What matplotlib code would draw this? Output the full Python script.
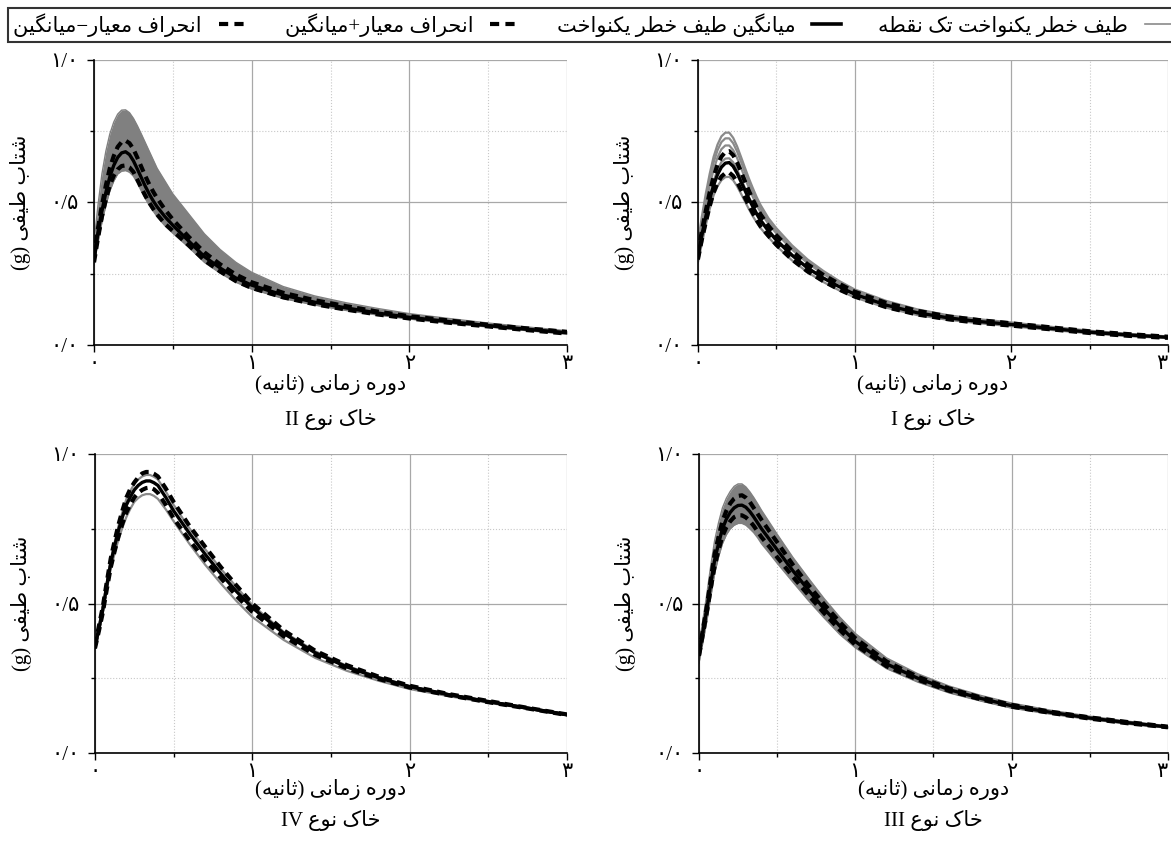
import re
import matplotlib
matplotlib.use('Agg')
import matplotlib.pyplot as plt
from matplotlib.lines import Line2D
from matplotlib.ticker import MultipleLocator

plt.rcParams['font.family'] = ['Liberation Serif', 'DejaVu Sans']

# دوره زمانی (ثانیه)
T = [0, 0.025, 0.05, 0.075, 0.1, 0.125, 0.15, 0.175, 0.2, 0.225, 0.25, 0.275, 0.3, 0.325, 0.35,
     0.375, 0.4, 0.45, 0.5, 0.6, 0.7, 0.8, 0.9, 1.0, 1.2, 1.4, 1.6, 1.8, 2.0, 2.25, 2.5, 2.75, 3.0]

# خاک نوع I
soil1_mean = [0.31, 0.385, 0.45, 0.51, 0.56, 0.598, 0.624, 0.638, 0.64, 0.627, 0.603, 0.573, 0.543,
              0.513, 0.486, 0.46, 0.437, 0.40, 0.368, 0.315, 0.27, 0.235, 0.205, 0.178, 0.14, 0.113,
              0.095, 0.082, 0.072, 0.058, 0.045, 0.035, 0.027]
soil1_plus = [0.32, 0.40, 0.47, 0.535, 0.59, 0.632, 0.661, 0.677, 0.68, 0.666, 0.64, 0.608, 0.574,
              0.541, 0.511, 0.483, 0.458, 0.418, 0.385, 0.33, 0.283, 0.246, 0.215, 0.187, 0.148, 0.12,
              0.1, 0.087, 0.076, 0.062, 0.048, 0.038, 0.029]
soil1_minus = [0.30, 0.37, 0.43, 0.487, 0.535, 0.568, 0.591, 0.603, 0.605, 0.593, 0.572, 0.545, 0.517,
               0.489, 0.463, 0.438, 0.416, 0.383, 0.352, 0.30, 0.258, 0.224, 0.195, 0.17, 0.133, 0.107,
               0.09, 0.077, 0.068, 0.055, 0.042, 0.032, 0.025]
soil1_g1 = [0.36, 0.45, 0.53, 0.60, 0.66, 0.703, 0.732, 0.745, 0.745, 0.727, 0.697, 0.66, 0.622,
            0.585, 0.551, 0.519, 0.491, 0.445, 0.41, 0.35, 0.30, 0.26, 0.225, 0.195, 0.155, 0.125,
            0.104, 0.09, 0.079, 0.064, 0.05, 0.039, 0.03]
soil1_g2 = [0.34, 0.43, 0.51, 0.58, 0.64, 0.683, 0.712, 0.725, 0.725, 0.708, 0.679, 0.643, 0.606,
            0.57, 0.537, 0.506, 0.479, 0.435, 0.40, 0.342, 0.293, 0.254, 0.22, 0.19, 0.15, 0.121,
            0.101, 0.088, 0.077, 0.062, 0.048, 0.037, 0.028]
soil1_g3 = [0.33, 0.41, 0.49, 0.558, 0.615, 0.658, 0.687, 0.70, 0.70, 0.684, 0.656, 0.622, 0.586,
            0.552, 0.52, 0.491, 0.465, 0.425, 0.392, 0.335, 0.287, 0.249, 0.216, 0.186, 0.147, 0.119,
            0.099, 0.086, 0.075, 0.06, 0.047, 0.036, 0.028]
soil1_g4 = [0.31, 0.385, 0.46, 0.522, 0.575, 0.615, 0.642, 0.654, 0.655, 0.641, 0.615, 0.584, 0.551,
            0.519, 0.49, 0.464, 0.441, 0.405, 0.372, 0.318, 0.272, 0.236, 0.205, 0.178, 0.14, 0.113,
            0.095, 0.082, 0.072, 0.058, 0.045, 0.035, 0.027]
soil1_g5 = [0.29, 0.355, 0.42, 0.477, 0.525, 0.557, 0.578, 0.589, 0.59, 0.578, 0.557, 0.531, 0.504,
            0.477, 0.452, 0.43, 0.41, 0.378, 0.348, 0.297, 0.255, 0.221, 0.192, 0.167, 0.131, 0.105,
            0.088, 0.076, 0.066, 0.053, 0.041, 0.031, 0.024]

# خاک نوع II
soil2_mean = [0.30, 0.395, 0.47, 0.535, 0.59, 0.63, 0.658, 0.674, 0.678, 0.668, 0.646, 0.617, 0.587,
              0.557, 0.53, 0.506, 0.485, 0.45, 0.42, 0.365, 0.31, 0.27, 0.235, 0.21, 0.175, 0.15,
              0.13, 0.112, 0.097, 0.082, 0.068, 0.055, 0.043]
soil2_plus = [0.31, 0.41, 0.49, 0.56, 0.62, 0.663, 0.695, 0.712, 0.717, 0.708, 0.687, 0.657, 0.625,
              0.593, 0.564, 0.538, 0.515, 0.475, 0.44, 0.38, 0.325, 0.283, 0.247, 0.22, 0.183, 0.157,
              0.136, 0.117, 0.101, 0.086, 0.071, 0.058, 0.046]
soil2_minus = [0.29, 0.375, 0.45, 0.51, 0.56, 0.594, 0.616, 0.628, 0.63, 0.623, 0.607, 0.58, 0.551,
               0.524, 0.50, 0.478, 0.458, 0.425, 0.40, 0.35, 0.297, 0.258, 0.224, 0.20, 0.167, 0.143,
               0.124, 0.107, 0.093, 0.078, 0.065, 0.052, 0.040]
soil2_top = [0.36, 0.49, 0.60, 0.68, 0.74, 0.782, 0.81, 0.824, 0.825, 0.815, 0.795, 0.769, 0.74,
             0.71, 0.68, 0.65, 0.62, 0.575, 0.53, 0.46, 0.39, 0.335, 0.29, 0.255, 0.205, 0.172,
             0.148, 0.128, 0.11, 0.093, 0.077, 0.063, 0.05]
soil2_bottom = [0.28, 0.36, 0.43, 0.49, 0.54, 0.575, 0.60, 0.61, 0.612, 0.606, 0.592, 0.568, 0.54,
                0.514, 0.49, 0.47, 0.45, 0.418, 0.392, 0.343, 0.29, 0.252, 0.22, 0.196, 0.163, 0.14,
                0.121, 0.105, 0.091, 0.076, 0.063, 0.05, 0.038]

# خاک نوع III
soil3_mean = [0.33, 0.405, 0.48, 0.565, 0.645, 0.70, 0.75, 0.782, 0.805, 0.82, 0.828, 0.829, 0.822,
              0.808, 0.79, 0.77, 0.75, 0.715, 0.68, 0.61, 0.545, 0.483, 0.425, 0.373, 0.298, 0.25,
              0.212, 0.183, 0.158, 0.136, 0.117, 0.101, 0.087]
soil3_plus = [0.335, 0.412, 0.49, 0.578, 0.665, 0.722, 0.775, 0.81, 0.835, 0.851, 0.86, 0.862, 0.854,
              0.84, 0.82, 0.80, 0.78, 0.742, 0.705, 0.63, 0.562, 0.498, 0.438, 0.384, 0.306, 0.255,
              0.216, 0.186, 0.161, 0.138, 0.119, 0.103, 0.088]
soil3_minus = [0.325, 0.398, 0.47, 0.55, 0.625, 0.678, 0.725, 0.755, 0.775, 0.789, 0.795, 0.795, 0.788,
               0.776, 0.76, 0.741, 0.722, 0.69, 0.655, 0.59, 0.528, 0.468, 0.412, 0.362, 0.29, 0.245,
               0.208, 0.18, 0.155, 0.134, 0.115, 0.099, 0.086]
soil3_top = [0.36, 0.445, 0.53, 0.625, 0.71, 0.77, 0.82, 0.852, 0.875, 0.892, 0.90, 0.90, 0.89,
             0.874, 0.855, 0.834, 0.812, 0.772, 0.732, 0.655, 0.585, 0.517, 0.455, 0.40, 0.318, 0.265,
             0.224, 0.193, 0.167, 0.143, 0.123, 0.106, 0.091]
soil3_bottom = [0.30, 0.37, 0.44, 0.52, 0.60, 0.655, 0.70, 0.73, 0.75, 0.762, 0.768, 0.768, 0.762,
                0.75, 0.737, 0.72, 0.70, 0.668, 0.635, 0.572, 0.51, 0.452, 0.397, 0.352, 0.282, 0.237,
                0.201, 0.174, 0.15, 0.13, 0.112, 0.096, 0.083]

# خاک نوع IV
soil4_mean = [0.355, 0.415, 0.48, 0.56, 0.635, 0.693, 0.745, 0.79, 0.83, 0.857, 0.88, 0.895, 0.905,
              0.91, 0.91, 0.904, 0.895, 0.855, 0.81, 0.735, 0.665, 0.60, 0.54, 0.486, 0.40, 0.335,
              0.288, 0.252, 0.222, 0.195, 0.172, 0.15, 0.128]
soil4_plus = [0.36, 0.425, 0.49, 0.572, 0.65, 0.71, 0.765, 0.812, 0.855, 0.884, 0.905, 0.922, 0.935,
              0.94, 0.94, 0.934, 0.925, 0.885, 0.84, 0.76, 0.69, 0.622, 0.56, 0.50, 0.41, 0.342,
              0.294, 0.256, 0.225, 0.197, 0.174, 0.151, 0.129]
soil4_minus = [0.35, 0.408, 0.47, 0.547, 0.62, 0.675, 0.725, 0.768, 0.805, 0.832, 0.855, 0.87, 0.88,
               0.886, 0.888, 0.882, 0.87, 0.83, 0.785, 0.712, 0.645, 0.585, 0.525, 0.472, 0.39, 0.328,
               0.283, 0.248, 0.219, 0.193, 0.17, 0.149, 0.127]
soil4_g1 = [0.35, 0.405, 0.47, 0.545, 0.615, 0.668, 0.715, 0.755, 0.79, 0.817, 0.84, 0.853, 0.862,
            0.866, 0.866, 0.86, 0.85, 0.815, 0.775, 0.70, 0.63, 0.567, 0.508, 0.455, 0.378, 0.318,
            0.275, 0.242, 0.214, 0.19, 0.168, 0.148, 0.127]
soil4_g2 = [0.36, 0.425, 0.49, 0.57, 0.645, 0.705, 0.76, 0.807, 0.85, 0.877, 0.90, 0.915, 0.925,
            0.93, 0.93, 0.924, 0.915, 0.875, 0.83, 0.752, 0.682, 0.616, 0.555, 0.495, 0.405, 0.34,
            0.292, 0.255, 0.224, 0.196, 0.173, 0.15, 0.128]

x_ticks = [0, 1, 2, 3]
x_tick_labels = ['۰', '۱', '۲', '۳']
y_ticks = [0, 0.5, 1.0]
y_tick_labels = ['۰/۰', '۰/۵', '۱/۰']

legend_labels = ['طیف خطر یکنواخت تک نقطه', 'میانگین طیف خطر یکنواخت',
                 'انحراف معیار+میانگین', 'انحراف معیار−میانگین']
x_label = 'دوره زمانی (ثانیه)'
y_label = 'شتاب طیفی (g)'
soil_titles = ['خاک نوع I', 'خاک نوع II', 'خاک نوع III', 'خاک نوع IV']

# شکل‌های نمایشی حروف: (تنها، پایانی، آغازی، میانی)
FORMS = {
    'ا': ('\ufe8d', '\ufe8e'),
    'ب': ('\ufe8f', '\ufe90', '\ufe91', '\ufe92'),
    'ت': ('\ufe95', '\ufe96', '\ufe97', '\ufe98'),
    'ث': ('\ufe99', '\ufe9a', '\ufe9b', '\ufe9c'),
    'ح': ('\ufea1', '\ufea2', '\ufea3', '\ufea4'),
    'خ': ('\ufea5', '\ufea6', '\ufea7', '\ufea8'),
    'د': ('\ufea9', '\ufeaa'),
    'ر': ('\ufead', '\ufeae'),
    'ز': ('\ufeaf', '\ufeb0'),
    'ش': ('\ufeb5', '\ufeb6', '\ufeb7', '\ufeb8'),
    'ط': ('\ufec1', '\ufec2', '\ufec3', '\ufec4'),
    'ع': ('\ufec9', '\ufeca', '\ufecb', '\ufecc'),
    'ف': ('\ufed1', '\ufed2', '\ufed3', '\ufed4'),
    'ق': ('\ufed5', '\ufed6', '\ufed7', '\ufed8'),
    'م': ('\ufee1', '\ufee2', '\ufee3', '\ufee4'),
    'ن': ('\ufee5', '\ufee6', '\ufee7', '\ufee8'),
    'ه': ('\ufee9', '\ufeea', '\ufeeb', '\ufeec'),
    'و': ('\ufeed', '\ufeee'),
    'ک': ('\ufb8e', '\ufb8f', '\ufb90', '\ufb91'),
    'گ': ('\ufb92', '\ufb93', '\ufb94', '\ufb95'),
    'ی': ('\ufbfc', '\ufbfd', '\ufbfe', '\ufbff'),
}


def fa(text):
    # matplotlib متن راست به چپ را شکل نمی‌دهد، پس دستی انجام می‌شود
    out = []
    for i, ch in enumerate(text):
        if ch not in FORMS:
            out.append(ch)
            continue
        f = FORMS[ch]
        prev = text[i - 1] if i > 0 else ''
        nxt = text[i + 1] if i + 1 < len(text) else ''
        jp = prev in FORMS and len(FORMS[prev]) == 4
        jn = len(f) == 4 and nxt in FORMS
        if jp and jn:
            out.append(f[3])
        elif jp:
            out.append(f[1])
        elif jn:
            out.append(f[2])
        else:
            out.append(f[0])
    s = ''.join(out)[::-1]
    # لاتین چپ به راست می‌ماند
    s = re.sub(r'[A-Za-z]+', lambda m: m.group(0)[::-1], s)
    return s.translate(str.maketrans('()', ')('))


FS = 15
GRAY = '#8a8a8a'
DASH = (0, (2, 1.3))

fig = plt.figure(figsize=(11.71, 8.52), dpi=100)
ax_I = fig.add_axes([0.596, 0.5951, 0.4014, 0.3345])
ax_II = fig.add_axes([0.0803, 0.5951, 0.4039, 0.3345])
ax_III = fig.add_axes([0.5969, 0.1162, 0.4005, 0.3509])
ax_IV = fig.add_axes([0.0811, 0.1162, 0.4031, 0.3509])


def draw_panel(ax, mean, plus, minus, gray_lines=None, band=None):
    if band is not None:
        ax.fill_between(T, band[0], band[1], color='#808080', lw=0, zorder=2)
        ax.plot(T, band[0], color='#808080', lw=1.0, zorder=2)
        ax.plot(T, band[1], color='#808080', lw=1.0, zorder=2)
    if gray_lines is not None:
        for g in gray_lines:
            ax.plot(T, g, color=GRAY, lw=1.6, zorder=2)
    ax.plot(T, plus, color='black', lw=3, ls=DASH, zorder=3)
    ax.plot(T, minus, color='black', lw=3, ls=DASH, zorder=3)
    ax.plot(T, mean, color='black', lw=2.4, zorder=4)


draw_panel(ax_I, soil1_mean, soil1_plus, soil1_minus,
           gray_lines=[soil1_g1, soil1_g2, soil1_g3, soil1_g4, soil1_g5])
draw_panel(ax_II, soil2_mean, soil2_plus, soil2_minus, band=(soil2_bottom, soil2_top))
draw_panel(ax_III, soil3_mean, soil3_plus, soil3_minus, band=(soil3_bottom, soil3_top))
draw_panel(ax_IV, soil4_mean, soil4_plus, soil4_minus, gray_lines=[soil4_g1, soil4_g2])

panels = [(ax_I, soil_titles[0], -0.263, 0), (ax_II, soil_titles[1], -0.263, 0),
          (ax_III, soil_titles[2], -0.225, -2), (ax_IV, soil_titles[3], -0.225, -2)]
for ax, title, tpos, lpad in panels:
    ax.set_xlim(0, 3)
    ax.set_ylim(0, 1.0)
    ax.set_xticks(x_ticks)
    ax.set_xticklabels(x_tick_labels, fontsize=FS)
    ax.set_yticks(y_ticks)
    ax.set_yticklabels(y_tick_labels, fontsize=FS)
    ax.xaxis.set_minor_locator(MultipleLocator(0.5))
    ax.yaxis.set_minor_locator(MultipleLocator(0.25))
    ax.tick_params(which='major', direction='out', length=5, width=1)
    ax.tick_params(axis='x', which='major', pad=2)
    ax.tick_params(axis='y', which='major', pad=6)
    ax.tick_params(which='minor', direction='out', length=3, width=1)
    ax.grid(which='major', color='#a8a8a8', lw=0.9, zorder=0)
    ax.grid(which='minor', color='#c8c8c8', lw=0.8, ls=':', zorder=0)
    for s in ['top', 'right']:
        ax.spines[s].set_visible(False)
    for s in ['left', 'bottom']:
        ax.spines[s].set_linewidth(1.2)
    ax.set_xlabel(fa(x_label), fontsize=FS, labelpad=lpad)
    ax.set_ylabel(fa(y_label), fontsize=FS, labelpad=14)
    ax.text(0.5, tpos, fa(title), transform=ax.transAxes, ha='center', va='center', fontsize=FS)

# برچسب ۳ در لبه راست شکل بریده نشود
for ax in (ax_I, ax_III):
    ax.get_xticklabels()[-1].set_horizontalalignment('right')

handles = [
    Line2D([], [], color=GRAY, lw=1.2),
    Line2D([], [], color='black', lw=2.6),
    Line2D([], [], color='black', lw=3, ls=(0, (2.2, 1.5))),
    Line2D([], [], color='black', lw=3, ls=(0, (2.2, 1.5))),
]
# چیدمان راست به چپ
leg = fig.legend(handles[::-1], [fa(s) for s in legend_labels[::-1]],
                 loc='lower left', bbox_to_anchor=(0.007, 0.951, 1.0, 0.044),
                 mode='expand', ncol=4, markerfirst=False, fontsize=FS,
                 frameon=True, fancybox=False, edgecolor='black',
                 handlelength=1.4, borderaxespad=0, borderpad=0.25)
leg.get_frame().set_linewidth(1.5)

fig.savefig('out.png', dpi=100)
